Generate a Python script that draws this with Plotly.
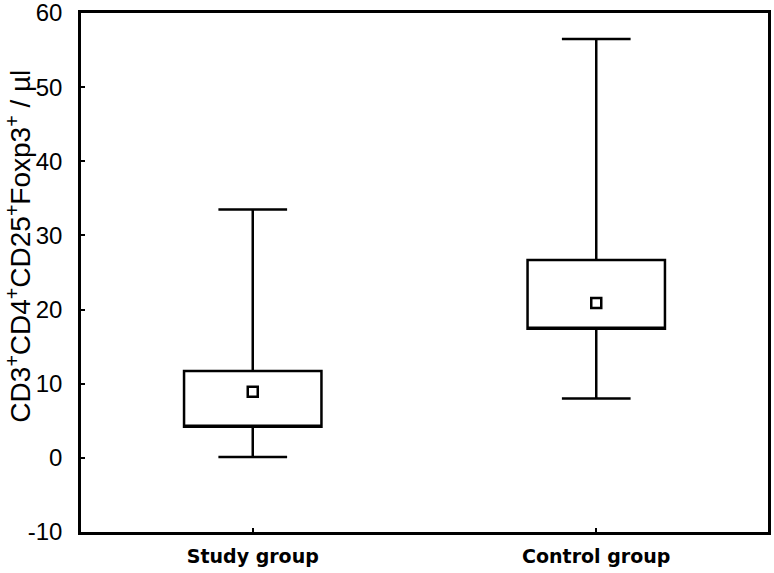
import plotly.graph_objects as go

groups = ["Study group", "Control group"]
box_low = [4.2, 17.4]
box_high = [11.7, 26.7]
means = [8.9, 20.9]
whisker_low = [0.1, 8.0]
whisker_high = [33.5, 56.5]
y_ticks = [-10, 0, 10, 20, 30, 40, 50, 60]
y_tick_text = ["-10", "0", "10", "20", "30", "40", "50", "60"]
y_title = "CD3<sup>+</sup>CD4<sup>+</sup>CD25<sup>+</sup>Foxp3<sup>+</sup> / µl"

fig = go.Figure()
fig.add_trace(go.Box(
    x=groups,
    q1=box_low,
    median=box_low,
    q3=box_high,
    lowerfence=whisker_low,
    upperfence=whisker_high,
    width=0.4,
    whiskerwidth=0.5,
    fillcolor="white",
    line=dict(color="black", width=2.5),
    boxpoints=False,
    hoverinfo="skip",
    showlegend=False,
))
fig.add_trace(go.Scatter(
    x=groups,
    y=means,
    mode="markers",
    marker=dict(symbol="square-open", size=10, color="black", line=dict(width=2.5, color="black")),
    showlegend=False,
))

fig.update_layout(
    width=774, height=573,
    margin=dict(l=81, r=6, t=13, b=41),
    paper_bgcolor="white",
    plot_bgcolor="white",
    font=dict(family="Liberation Sans, Arial", color="black"),
    annotations=[dict(
        text=y_title, textangle=-90,
        xref="paper", yref="paper", x=-0.0915, y=0.5 + 26 / 519,
        xanchor="center", yanchor="middle", showarrow=False,
        font=dict(family="Liberation Sans, Arial", size=28, color="black"),
    )],
)
fig.update_xaxes(
    type="category",
    categoryorder="array", categoryarray=groups,
    range=[-0.5, 1.5],
    automargin=False,
    showline=True, linecolor="black", linewidth=2.5, mirror=True,
    ticks="inside", ticklen=4, tickwidth=1.5, tickcolor="black",
    showgrid=False, zeroline=False,
    tickfont=dict(family="DejaVu Sans", size=19, color="black", weight="bold"),
    ticklabelstandoff=5,
    ticklabeloverflow="allow",
)
fig.update_yaxes(
    range=[-10, 60],
    tickvals=y_ticks, ticktext=y_tick_text,
    automargin=False,
    showline=True, linecolor="black", linewidth=2.5, mirror=True,
    ticks="inside", ticklen=4, tickwidth=1.5, tickcolor="black",
    showgrid=False, zeroline=False,
    tickfont=dict(family="Liberation Sans, Arial", size=24, color="black"),
    ticklabelstandoff=11,
    ticklabeloverflow="allow",
)

fig.write_html("out.html", config={"displayModeBar": False},
               post_script="document.body.style.margin='0';")
